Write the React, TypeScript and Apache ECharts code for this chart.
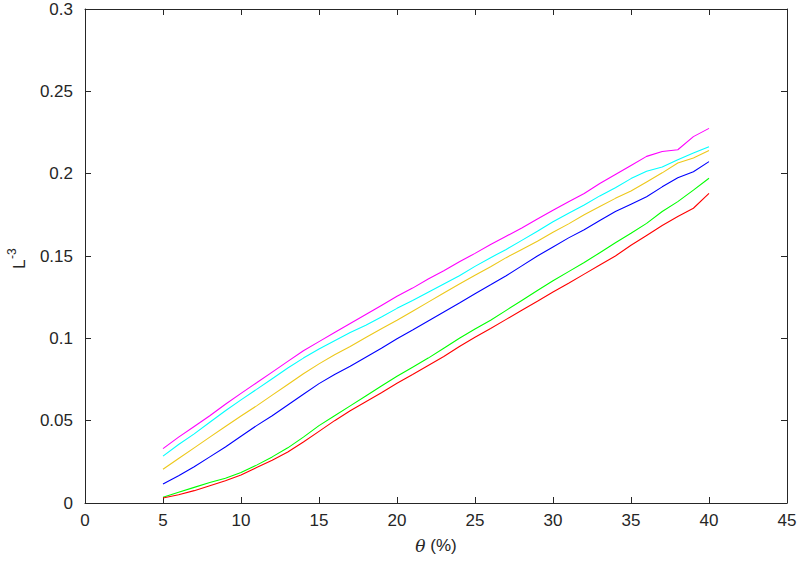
import React, { useEffect, useRef } from "react";
import * as echarts from "echarts";

const thetaValues = [
  5, 6, 7, 8, 9, 10, 11, 12, 13, 14, 15, 16, 17, 18, 19, 20, 21, 22, 23, 24, 25,
  26, 27, 28, 29, 30, 31, 32, 33, 34, 35, 36, 37, 38, 39, 40,
];

const magentaSeries = [
  0.033, 0.04, 0.0465, 0.053, 0.06, 0.0666, 0.073, 0.0795, 0.086, 0.0925, 0.098,
  0.1035, 0.109, 0.1145, 0.12, 0.1255, 0.1305, 0.136, 0.141, 0.1465, 0.1516,
  0.157, 0.162, 0.167, 0.1725, 0.1778, 0.183, 0.188, 0.194, 0.1995, 0.205,
  0.2105, 0.2135, 0.2145, 0.2225, 0.2275,
];
const cyanSeries = [
  0.0285, 0.0355, 0.042, 0.049, 0.056, 0.0626, 0.069, 0.0755, 0.082, 0.088,
  0.0935, 0.0985, 0.1035, 0.108, 0.113, 0.1182, 0.123, 0.128, 0.133, 0.138,
  0.1437, 0.149, 0.154, 0.1595, 0.165, 0.1708, 0.176, 0.181, 0.1865, 0.1915,
  0.197, 0.2015, 0.204, 0.2085, 0.2125, 0.2164,
];
const yellowSeries = [
  0.0205, 0.027, 0.0335, 0.04, 0.0465, 0.0528, 0.059, 0.0655, 0.072, 0.0785,
  0.0845, 0.09, 0.095, 0.1005, 0.1058, 0.111, 0.1165, 0.122, 0.1275, 0.133,
  0.1383, 0.1435, 0.149, 0.154, 0.159, 0.1644, 0.1695, 0.175, 0.18, 0.185,
  0.1895, 0.195, 0.2005, 0.2065, 0.2095, 0.214,
];
const blueSeries = [
  0.0115, 0.0165, 0.022, 0.028, 0.034, 0.0405, 0.047, 0.053, 0.0595, 0.066,
  0.0725, 0.078, 0.083, 0.0885, 0.094, 0.0998, 0.105, 0.1105, 0.116, 0.1215,
  0.1271, 0.1325, 0.138, 0.144, 0.15, 0.1555, 0.161, 0.166, 0.1715, 0.177,
  0.1815, 0.186, 0.192, 0.1975, 0.2012, 0.2073,
];
const greenSeries = [
  0.0035, 0.0065, 0.0095, 0.0125, 0.015, 0.0185, 0.023, 0.028, 0.0335, 0.04,
  0.047, 0.053, 0.059, 0.065, 0.071, 0.077, 0.0825, 0.088, 0.094, 0.1, 0.1057,
  0.111, 0.117, 0.123, 0.129, 0.135, 0.1405, 0.146, 0.152, 0.158, 0.1638,
  0.1698, 0.177, 0.183, 0.19, 0.1972,
];
const redSeries = [
  0.003, 0.005, 0.0075, 0.0105, 0.0135, 0.017, 0.0215, 0.026, 0.031, 0.037,
  0.0435, 0.05, 0.056, 0.0615, 0.067, 0.0727, 0.078, 0.0835, 0.089, 0.095,
  0.1006, 0.106, 0.1115, 0.117, 0.1225, 0.1281, 0.1335, 0.139, 0.1445, 0.15,
  0.1565, 0.1625, 0.1685, 0.174, 0.179, 0.188,
];

const seriesList = [
  { name: "magenta", color: "#ff00ff", values: magentaSeries },
  { name: "cyan", color: "#00ffff", values: cyanSeries },
  { name: "yellow", color: "#edc81a", values: yellowSeries },
  { name: "blue", color: "#0000ff", values: blueSeries },
  { name: "green", color: "#00ff00", values: greenSeries },
  { name: "red", color: "#ff0000", values: redSeries },
];

const FONT = "'Liberation Sans', Arial, Helvetica, sans-serif";
const TEXT = "#262626";
const AXIS = "#262626";

export default function App() {
  const ref = useRef<HTMLDivElement>(null);

  useEffect(() => {
    if (!ref.current) return;
    const chart = echarts.init(ref.current, undefined, { renderer: "svg" });

    const insideTick = { show: true, inside: true, length: 6, lineStyle: { color: AXIS, width: 1 } };
    const axisLine = { show: true, onZero: false, lineStyle: { color: AXIS, width: 1 } };

    chart.setOption({
      animation: false,
      backgroundColor: "#ffffff",
      textStyle: { fontFamily: FONT },
      grid: { left: 85, right: 13, top: 9, bottom: 61, containLabel: false },
      xAxis: [
        {
          type: "value",
          min: 0,
          max: 45,
          interval: 5,
          position: "bottom",
          axisLine,
          axisTick: insideTick,
          splitLine: { show: false },
          axisLabel: { color: TEXT, fontSize: 17, margin: 9, fontFamily: FONT },
          name: "{i|θ} (%)",
          nameLocation: "middle",
          nameGap: 34,
          nameTextStyle: {
            color: TEXT,
            fontSize: 17,
            fontFamily: FONT,
            rich: { i: { fontStyle: "italic", fontSize: 17, fontFamily: "'DejaVu Serif', serif", color: TEXT } },
          },
        },
        {
          type: "value",
          min: 0,
          max: 45,
          interval: 5,
          position: "top",
          axisLine,
          axisTick: insideTick,
          axisLabel: { show: false },
          splitLine: { show: false },
        },
      ],
      yAxis: [
        {
          type: "value",
          min: 0,
          max: 0.3,
          interval: 0.05,
          position: "left",
          axisLine,
          axisTick: insideTick,
          splitLine: { show: false },
          axisLabel: {
            color: TEXT,
            fontSize: 17,
            margin: 12,
            fontFamily: FONT,
            formatter: (v: number) => String(+v.toFixed(2)),
          },
        },
        {
          type: "value",
          min: 0,
          max: 0.3,
          interval: 0.05,
          position: "right",
          axisLine,
          axisTick: insideTick,
          axisLabel: { show: false },
          splitLine: { show: false },
        },
      ],
      graphic: [
        {
          type: "group",
          x: 28,
          y: 269,
          rotation: Math.PI / 2,
          children: [
            {
              type: "text",
              x: 0,
              y: 0,
              style: {
                text: "L",
                fontSize: 17,
                fontFamily: FONT,
                fill: TEXT,
                textAlign: "left",
                textVerticalAlign: "bottom",
              },
            },
            {
              type: "text",
              x: 10,
              y: -10,
              style: {
                text: "-3",
                fontSize: 12,
                fontFamily: FONT,
                fill: TEXT,
                textAlign: "left",
                textVerticalAlign: "bottom",
              },
            },
          ],
        },
      ],
      series: seriesList.map((s) => ({
        name: s.name,
        type: "line",
        xAxisIndex: 0,
        yAxisIndex: 0,
        showSymbol: false,
        symbol: "none",
        lineStyle: { color: s.color, width: 1.1 },
        itemStyle: { color: s.color },
        data: thetaValues.map((t, i) => [t, s.values[i]]),
      })),
    });

    return () => chart.dispose();
  }, []);

  return <div ref={ref} style={{ width: 800, height: 564, position: "absolute", left: 0, top: 0 }} />;
}
